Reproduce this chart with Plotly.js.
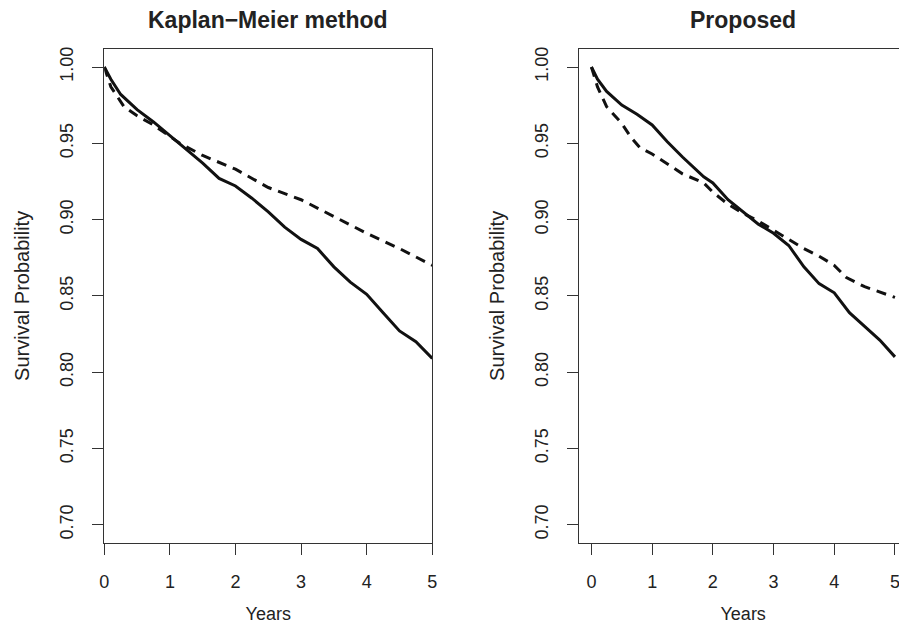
<!DOCTYPE html>
<html>
<head>
<meta charset="utf-8">
<script src="https://cdn.plot.ly/plotly-3.0.1.min.js"></script>
<style>
  html, body { margin: 0; padding: 0; background: #fff; overflow: hidden; }
  #wrap { width: 899px; height: 624px; overflow: hidden; }
  #chart { width: 920px; height: 624px; }
</style>
</head>
<body>
<div id="wrap"><div id="chart"></div></div>
<script>
// ---- Data ----
const panelTitles = ["Kaplan\u2212Meier method", "Proposed"];
const xTickVals = [0, 1, 2, 3, 4, 5];
const yTickVals = [0.70, 0.75, 0.80, 0.85, 0.90, 0.95, 1.00];
const yTickText = ["0.70", "0.75", "0.80", "0.85", "0.90", "0.95", "1.00"];

// Kaplan-Meier panel
const kmSolidYears = [0, 0.1, 0.25, 0.5, 0.75, 1, 1.25, 1.5, 1.75, 2, 2.25, 2.5, 2.75, 3, 3.25, 3.5, 3.75, 4, 4.25, 4.5, 4.75, 5];
const kmSolidSurv  = [1.000, 0.992, 0.982, 0.972, 0.964, 0.955, 0.946, 0.937, 0.927, 0.922, 0.914, 0.905, 0.895, 0.887, 0.881, 0.869, 0.859, 0.851, 0.839, 0.827, 0.820, 0.809];
const kmDashYears = [0, 0.1, 0.3, 0.5, 0.75, 1.15, 1.5, 2, 2.5, 3, 3.5, 4, 4.5, 5];
const kmDashSurv  = [1.000, 0.987, 0.974, 0.968, 0.962, 0.950, 0.942, 0.933, 0.921, 0.913, 0.902, 0.891, 0.881, 0.870];

// Proposed panel
const prSolidYears = [0, 0.1, 0.25, 0.5, 0.75, 1, 1.25, 1.5, 1.85, 2, 2.25, 2.5, 2.75, 3, 3.25, 3.5, 3.75, 4, 4.25, 4.5, 4.75, 5];
const prSolidSurv  = [1.000, 0.992, 0.984, 0.975, 0.969, 0.962, 0.951, 0.941, 0.928, 0.924, 0.913, 0.905, 0.897, 0.891, 0.883, 0.869, 0.858, 0.852, 0.839, 0.830, 0.821, 0.810];
const prDashYears = [0, 0.1, 0.25, 0.5, 0.65, 0.8, 1, 1.5, 1.85, 2, 2.25, 2.5, 2.75, 3, 3.25, 3.5, 3.75, 4, 4.2, 4.5, 5];
const prDashSurv  = [1.000, 0.987, 0.974, 0.963, 0.954, 0.947, 0.943, 0.930, 0.924, 0.918, 0.910, 0.904, 0.899, 0.893, 0.887, 0.881, 0.876, 0.870, 0.862, 0.856, 0.849];

// ---- Layout geometry ----
const W = 920, H = 624;
const font = "Liberation Sans, Arial, Helvetica, sans-serif";
const txt = "#222";
const axc = "#333";

const solid = {color: "#111", width: 3};
const dashed = {color: "#111", width: 3, dash: "10px,7px"};

const traces = [
  {x: kmSolidYears, y: kmSolidSurv, xaxis: "x", yaxis: "y", mode: "lines", line: solid, hoverinfo: "skip"},
  {x: kmDashYears,  y: kmDashSurv,  xaxis: "x", yaxis: "y", mode: "lines", line: dashed, hoverinfo: "skip"},
  {x: prSolidYears, y: prSolidSurv, xaxis: "x2", yaxis: "y2", mode: "lines", line: solid, hoverinfo: "skip"},
  {x: prDashYears,  y: prDashSurv,  xaxis: "x2", yaxis: "y2", mode: "lines", line: dashed, hoverinfo: "skip"}
];

function xax(range, domain, anchor) {
  return {
    domain: domain, range: range, anchor: anchor,
    tickvals: xTickVals, ticktext: xTickVals.map(String),
    ticks: "outside", ticklen: 11, tickwidth: 1, tickcolor: axc,
    showline: true, linecolor: axc, linewidth: 1, mirror: true,
    showgrid: false, zeroline: false,
    tickfont: {family: font, size: 18, color: txt},
    ticklabelstandoff: 11,
    title: {text: "Years", font: {family: font, size: 18, color: txt}, standoff: 17},
    fixedrange: true
  };
}
function yax(domain, anchor) {
  return {
    domain: domain, range: [0.688, 1.012], anchor: anchor,
    tickvals: yTickVals, ticktext: yTickText, tickangle: -90,
    ticks: "outside", ticklen: 11, tickwidth: 1, tickcolor: axc,
    showline: true, linecolor: axc, linewidth: 1, mirror: true,
    showgrid: false, zeroline: false,
    tickfont: {family: font, size: 18, color: txt},
    ticklabelstandoff: 12,
    title: {text: "Survival Probability", font: {family: font, size: 20, color: txt}, standoff: 22},
    fixedrange: true
  };
}

const yDom = [1 - 543 / H, 1 - 48.7 / H];
const layout = {
  width: W, height: H,
  margin: {l: 0, r: 0, t: 0, b: 0},
  paper_bgcolor: "#fff", plot_bgcolor: "#fff",
  showlegend: false,
  xaxis: xax([0, 5], [104.3 / W, 432.3 / W], "y"),
  yaxis: yax(yDom, "x"),
  xaxis2: xax([-0.2, 5.2], [579.3 / W, 907.1 / W], "y2"),
  yaxis2: yax(yDom, "x2"),
  annotations: [
    {text: "<b>" + panelTitles[0] + "</b>", xref: "paper", yref: "paper", x: 268.3 / W, y: 1 - 19.5 / H,
     xanchor: "center", yanchor: "middle", showarrow: false, font: {family: font, size: 23, color: txt}},
    {text: "<b>" + panelTitles[1] + "</b>", xref: "paper", yref: "paper", x: 743 / W, y: 1 - 19.5 / H,
     xanchor: "center", yanchor: "middle", showarrow: false, font: {family: font, size: 23, color: txt}}
  ]
};

Plotly.newPlot("chart", traces, layout, {staticPlot: true, displayModeBar: false});
</script>
</body>
</html>
